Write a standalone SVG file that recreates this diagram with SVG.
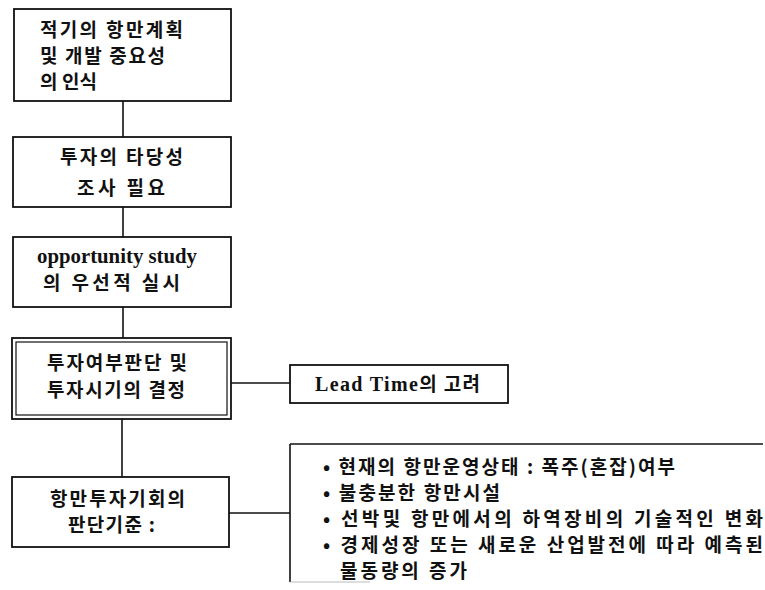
<svg xmlns="http://www.w3.org/2000/svg" width="765" height="590" viewBox="0 0 765 590">
<style>
.box{fill:#fff;stroke:#111;stroke-width:1.8}
.inner{fill:none;stroke:#111;stroke-width:1.2}
.ln{fill:none;stroke:#111;stroke-width:1.6}
.ko{font-family:"Noto Sans CJK KR","Noto Sans",sans-serif;font-size:19px;font-weight:bold;fill:#111}
.en{font-family:"Liberation Serif","Noto Sans CJK KR",serif;font-size:20px;font-weight:bold;fill:#111}
</style>
<rect width="765" height="590" fill="#fff"/>
<g id="connectors">
<line class="ln" x1="123" y1="101" x2="123" y2="137"/>
<line class="ln" x1="123" y1="207" x2="123" y2="237"/>
<line class="ln" x1="123" y1="307" x2="123" y2="338"/>
<line class="ln" x1="122" y1="419" x2="122" y2="477"/>
<line class="ln" x1="231" y1="383" x2="290" y2="383"/>
<line class="ln" x1="229" y1="513" x2="290" y2="513"/>
</g>
<g id="n1">
<rect class="box" x="14" y="9" width="217" height="92"/>
<text class="ko" x="40" y="37" textLength="143" lengthAdjust="spacing">적기의 항만계획</text>
<text class="ko" x="40" y="63" textLength="125" lengthAdjust="spacing">및 개발 중요성</text>
<text class="ko" x="40" y="89" textLength="57" lengthAdjust="spacing">의 인식</text>
</g>
<g id="n2">
<rect class="box" x="13" y="137" width="218" height="70"/>
<text class="ko" x="60" y="164" textLength="123" lengthAdjust="spacing">투자의 타당성</text>
<text class="ko" x="77" y="195" textLength="88" lengthAdjust="spacing">조사 필요</text>
</g>
<g id="n3">
<rect class="box" x="13" y="237" width="218" height="70"/>
<text class="en" x="37" y="263" textLength="160" lengthAdjust="spacingAndGlyphs">opportunity study</text>
<text class="ko" x="43" y="290" textLength="137" lengthAdjust="spacing">의 우선적 실시</text>
</g>
<g id="n4">
<rect class="box" x="12" y="338" width="219" height="81" stroke-width="2.2"/>
<rect class="inner" x="16" y="342" width="211" height="73"/>
<text class="ko" x="47" y="370" textLength="140" lengthAdjust="spacing">투자여부판단 및</text>
<text class="ko" x="47" y="397" textLength="138" lengthAdjust="spacing">투자시기의 결정</text>
</g>
<g id="n5">
<rect class="box" x="290" y="365" width="218" height="38"/>
<text class="en" x="315" y="391" textLength="165" lengthAdjust="spacing">Lead Time<tspan class="ko" font-size="19">의 고려</tspan></text>
</g>
<g id="n6">
<rect class="box" x="12" y="477" width="217" height="70"/>
<text class="ko" x="50" y="506" textLength="135" lengthAdjust="spacing">항만투자기회의</text>
<text class="ko" x="68" y="532" textLength="87" lengthAdjust="spacing">판단기준 :</text>
</g>
<g id="n7">
<path class="ln" d="M290 444 H763 M290 444 V582"/>
<line x1="290" y1="582" x2="370" y2="582" stroke="#bbb" stroke-width="1"/>
<text class="ko" x="323" y="474" textLength="352" lengthAdjust="spacing">• 현재의 항만운영상태 : 폭주(혼잡)여부</text>
<text class="ko" x="323" y="500" textLength="177" lengthAdjust="spacing">• 불충분한 항만시설</text>
<text class="ko" x="323" y="526" textLength="440" lengthAdjust="spacing">• 선박및 항만에서의 하역장비의 기술적인 변화</text>
<text class="ko" x="323" y="552" textLength="440" lengthAdjust="spacing">• 경제성장 또는 새로운 산업발전에 따라 예측된</text>
<text class="ko" x="340" y="578" textLength="127" lengthAdjust="spacing">물동량의 증가</text>
</g>
</svg>
